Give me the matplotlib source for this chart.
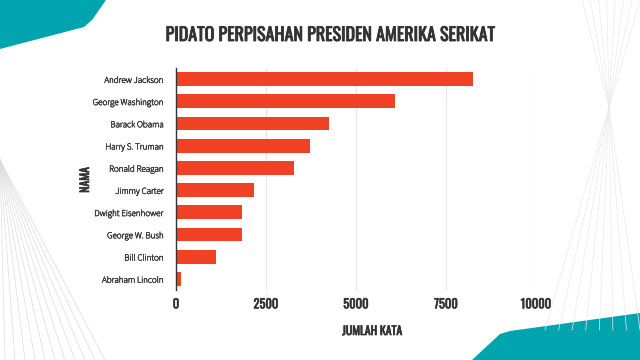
import matplotlib.pyplot as plt
import matplotlib.patheffects as pe
import numpy as np
from matplotlib.patches import Polygon

names = ["Andrew Jackson", "George Washington", "Barack Obama", "Harry S. Truman",
         "Ronald Reagan", "Jimmy Carter", "Dwight Eisenhower", "George W. Bush",
         "Bill Clinton", "Abraham Lincoln"]
words = [8250, 6090, 4250, 3720, 3280, 2170, 1840, 1840, 1120, 135]
xticks = [0, 2500, 5000, 7500, 10000]

BAR = "#F04124"
TEAL = "#00A4AE"
TXT = "#333333"
cond = ["Oswald", "DejaVu Sans"]
body = ["Source Sans 3", "Source Sans Pro", "Open Sans", "DejaVu Sans"]


def thick(w, c=TXT):
    return [pe.withStroke(linewidth=w, foreground=c)]


fig = plt.figure(figsize=(6.4, 3.6), dpi=100)
bg = fig.add_axes([0, 0, 1, 1])
bg.set_xlim(0, 640)
bg.set_ylim(360, 0)
bg.axis("off")

# decorative teal shapes
bg.add_patch(Polygon([(0, 0), (106, 0), (92, 20), (84, 27), (0, 49)],
                     closed=True, color=TEAL, lw=0))
bg.add_patch(Polygon([(472, 360), (500, 334), (510, 331), (640, 313), (640, 360)],
                     closed=True, color=TEAL, lw=0))

# thin fan lines
for xe in np.linspace(5, 105, 11):
    bg.plot([0, xe], [160, 360], color="#dcdcdc", lw=0.5)
cx, cy = 609, 107
for xt, xb in zip(np.linspace(582, 640, 8), np.linspace(640, 545, 8)):
    bg.plot([xt, cx, xb], [0, cy, 330], color="#ebebeb", lw=0.5)

ax = fig.add_axes([176 / 640, 1 - 290 / 360, 360 / 640, 222 / 360])
ax.set_facecolor("none")
y = np.arange(len(names))
ax.barh(y, words, height=0.62, color=BAR, zorder=3)
ax.set_ylim(len(names) - 0.5, -0.5)
ax.set_xlim(0, 10000)
ax.set_yticks(y)
ax.set_yticklabels(names, fontsize=6.5, color="#444444", family=body,
                   path_effects=thick(0.4, "#444444"))
ax.set_xticks(xticks)
ax.set_xticklabels([str(t) for t in xticks], fontsize=9, color=TXT, family=cond,
                   path_effects=thick(0.45))
ax.tick_params(axis="y", length=0, pad=9)
ax.tick_params(axis="x", length=0, pad=6)
ax.grid(axis="x", color="#e6e6e6", lw=0.8, zorder=0)
for s in ["top", "right", "bottom"]:
    ax.spines[s].set_visible(False)
ax.spines["left"].set_color("#333333")
ax.spines["left"].set_linewidth(1)
ax.spines["left"].set_zorder(4)

fig.text(372 / 640, 1 - 331 / 360, "JUMLAH KATA", ha="center", va="center",
         fontsize=8.5, color=TXT, family=cond, path_effects=thick(0.5))
fig.text(85 / 640, 1 - 180 / 360, "NAMA", ha="center", va="center", rotation=90,
         fontsize=8.5, color=TXT, family=cond, path_effects=thick(0.5))
fig.text(330 / 640, 1 - 35 / 360, "PIDATO PERPISAHAN PRESIDEN AMERIKA SERIKAT",
         ha="center", va="center", fontsize=13, color=TXT, family=cond,
         path_effects=thick(0.6))

fig.savefig("out.png", dpi=100)
